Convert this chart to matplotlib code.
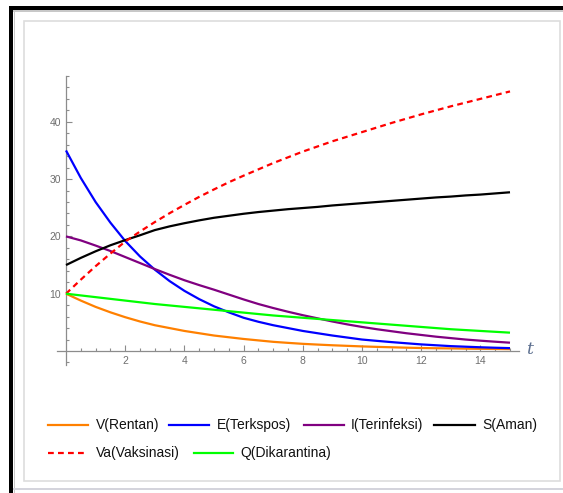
import numpy as np
import matplotlib
matplotlib.use('Agg')
import matplotlib.pyplot as plt
from matplotlib.patches import Rectangle
from matplotlib.lines import Line2D
from matplotlib.ticker import FixedLocator

W, H = 563, 493

# values, every half unit of t
t = [0, 0.5, 1, 1.5, 2, 2.5, 3, 3.5, 4, 4.5, 5, 5.5, 6, 6.5, 7, 7.5,
     8, 8.5, 9, 9.5, 10, 10.5, 11, 11.5, 12, 12.5, 13, 13.5, 14, 14.5, 15]
V = [10, 8.8, 7.7, 6.75, 5.9, 5.15, 4.5, 4.0, 3.5, 3.1, 2.7, 2.4, 2.1, 1.85, 1.6, 1.42,
     1.25, 1.12, 1.0, 0.9, 0.8, 0.72, 0.65, 0.58, 0.52, 0.48, 0.45, 0.41, 0.38, 0.355, 0.33]
E = [35, 30.2, 26.0, 22.4, 19.2, 16.5, 14.2, 12.2, 10.5, 9.05, 7.8, 6.75, 5.8, 5.1, 4.5, 4.0,
     3.5, 3.1, 2.7, 2.35, 2.0, 1.77, 1.55, 1.35, 1.15, 1.0, 0.85, 0.75, 0.65, 0.57, 0.5]
I = [20, 19.3, 18.4, 17.45, 16.4, 15.35, 14.3, 13.3, 12.35, 11.5, 10.7, 9.85, 9.0, 8.2, 7.5, 6.85,
     6.25, 5.7, 5.15, 4.65, 4.2, 3.8, 3.45, 3.1, 2.8, 2.5, 2.25, 2.0, 1.8, 1.62, 1.45]
S = [15, 16.25, 17.4, 18.45, 19.35, 20.2, 21.1, 21.75, 22.3, 22.8, 23.25, 23.6, 23.95, 24.25, 24.5, 24.75,
     24.95, 25.15, 25.4, 25.6, 25.8, 26.0, 26.2, 26.4, 26.6, 26.8, 26.95, 27.15, 27.3, 27.5, 27.7]
Va = [10, 12.45, 14.8, 17.0, 19.1, 20.85, 22.5, 24.05, 25.5, 26.9, 28.2, 29.45, 30.6, 31.7, 32.8, 33.8,
      34.8, 35.7, 36.6, 37.4, 38.2, 39.0, 39.8, 40.55, 41.3, 42.0, 42.7, 43.35, 44.0, 44.65, 45.3]
Q = [10, 9.7, 9.4, 9.1, 8.8, 8.5, 8.2, 7.95, 7.7, 7.45, 7.2, 6.95, 6.7, 6.45, 6.2, 6.0,
     5.8, 5.6, 5.4, 5.2, 5.0, 4.8, 4.6, 4.4, 4.2, 4.0, 3.8, 3.65, 3.5, 3.35, 3.2]

labels = ['V(Rentan)', 'E(Terkspos)', 'I(Terinfeksi)', 'S(Aman)', 'Va(Vaksinasi)', 'Q(Dikarantina)']
colors = ['#ff8000', '#0000ff', '#800080', '#000000', '#ff0000', '#00ff00']

plt.rcParams['font.family'] = ['Liberation Sans', 'DejaVu Sans']

fig = plt.figure(figsize=(W / 100, H / 100), dpi=100)

def fx(x):
    return x / W

def fy(y):
    return 1 - y / H

# screenshot frame
def rect(x0, y0, x1, y1, **kw):
    fig.add_artist(Rectangle((fx(x0), fy(y1)), (x1 - x0) / W, (y1 - y0) / H,
                             transform=fig.transFigure, **kw))

rect(9, 6, 13, 493, color='black', lw=0)
rect(9, 6, 563, 10, color='black', lw=0)
rect(13, 10, 563, 11.5, color='#c8c8c8', lw=0)
rect(13.5, 10, 15, 493, color='#c8c8c8', lw=0)
rect(13, 488, 563, 489.5, color='#d4d4dc', lw=0)
rect(24, 21, 559.5, 481, fill=False, ec='#dddddd', lw=1.2)

# axes placed so that t=0 -> x 66px, t=15 -> 510px, v=0 -> y 351px
x_left, x_right, y_top, y_bot = 40, 545, 60, 385
sx, sy = 29.6, 5.73
ax = fig.add_axes([fx(x_left), fy(y_bot), (x_right - x_left) / W, (y_bot - y_top) / H])
ax.set_xlim((x_left - 66) / sx, (x_right - 66) / sx)
ax.set_ylim((351 - y_bot) / sy, (351 - y_top) / sy)
ax.patch.set_alpha(0)

dash = (0, (2.6, 1.9))
series = [V, E, I, S, Va, Q]
for i, ys in enumerate(series):
    ls = dash if i == 4 else '-'
    ax.plot(t, ys, color=colors[i], lw=1.6, ls=ls, zorder=3, solid_capstyle='butt')

axc = '#8c8c8c'
for s in ['top', 'right']:
    ax.spines[s].set_visible(False)
ax.spines['left'].set_position(('data', 0))
ax.spines['bottom'].set_position(('data', 0))
ax.spines['left'].set_bounds(-2.5, 48)
ax.spines['bottom'].set_bounds(-0.3, 15.3)
for s in ['left', 'bottom']:
    ax.spines[s].set_color(axc)
    ax.spines[s].set_linewidth(0.9)

ax.xaxis.set_major_locator(FixedLocator([2, 4, 6, 8, 10, 12, 14]))
ax.xaxis.set_minor_locator(FixedLocator([x * 0.5 for x in range(1, 31)]))
ax.yaxis.set_major_locator(FixedLocator([10, 20, 30, 40]))
ax.yaxis.set_minor_locator(FixedLocator([-2] + list(range(2, 49, 2))))
ax.tick_params(which='both', direction='in', color=axc, width=0.8)
ax.tick_params(which='major', length=4.5, labelsize=7.5, labelcolor='#6e6e6e', pad=3.5)
ax.tick_params(which='minor', length=2.5)

fig.text(fx(530), fy(350), 't', fontsize=12.5, style='italic', family='DejaVu Serif',
         color='#5c6f8f', ha='center', va='center')

# legend, two rows
leg_rows = [(425, [(48, 88, 96, 0), (169, 209, 217, 1), (304, 344, 351, 2), (434, 475, 482, 3)]),
            (453, [(48, 88, 96, 4), (194, 233, 240, 5)])]
for yrow, entries in leg_rows:
    for x0, x1, xt, k in entries:
        ls = dash if k == 4 else '-'
        fig.add_artist(Line2D([fx(x0), fx(x1)], [fy(yrow), fy(yrow)], color=colors[k],
                              lw=1.6, ls=ls, transform=fig.transFigure))
        fig.text(fx(xt), fy(yrow), labels[k], fontsize=10, color='#111111',
                 ha='left', va='center')

fig.savefig('out.png', dpi=100)
